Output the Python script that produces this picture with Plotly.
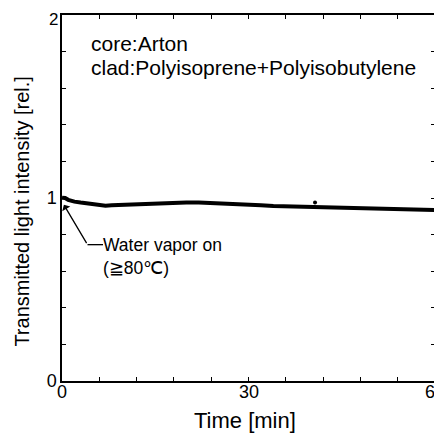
import plotly.graph_objects as go

# data
time_min = [0, 0.5, 1, 1.5, 2, 3, 4, 5, 6, 7, 8, 10, 12, 14, 16, 18, 20, 22, 24, 26,
            28, 30, 32, 34, 36, 38, 40, 42, 44, 46, 48, 50, 52, 54, 56, 58, 60]
intensity = [1.002, 1.0, 0.99, 0.984, 0.98, 0.975, 0.97, 0.965, 0.96, 0.958, 0.96, 0.963,
             0.966, 0.968, 0.971, 0.974, 0.976, 0.975, 0.973, 0.971, 0.968, 0.964, 0.96,
             0.956, 0.954, 0.951, 0.949, 0.947, 0.945, 0.943, 0.942, 0.94, 0.939, 0.937,
             0.935, 0.935, 0.934]
outlier_t = [40.7]
outlier_v = [0.976]

x_tickvals = [0, 6, 12, 18, 24, 30, 36, 42, 48, 54, 60]
x_label_vals = [0, 30, 60]
x_label_text = ["0", "30", "60"]
y_tickvals = [0, 0.2, 0.4, 0.6, 0.8, 1, 1.2, 1.4, 1.6, 1.8, 2]
y_ticktext = ["0", "", "", "", "", "1", "", "", "", "", ""]
y_top_label = "2"

FONT = "Liberation Sans, Arial, sans-serif"

fig = go.Figure()
fig.add_trace(go.Scatter(x=time_min, y=intensity, mode="lines",
                         line=dict(color="black", width=4), showlegend=False))
fig.add_trace(go.Scatter(x=outlier_t, y=outlier_v, mode="markers",
                         marker=dict(color="black", size=4), showlegend=False))

axis_common = dict(showline=True, linecolor="black", linewidth=1.5, mirror="ticks",
                   ticks="inside", ticklen=4, tickcolor="black", tickwidth=1.2,
                   showgrid=False, zeroline=False, automargin=False,
                   ticklabeloverflow="allow",
                   tickfont=dict(family=FONT, size=18, color="black"))

fig.update_xaxes(range=[0, 60], tickvals=x_tickvals, showticklabels=False, **axis_common)
fig.update_yaxes(range=[0, 2], tickvals=y_tickvals, ticktext=y_ticktext, **axis_common)

# top y label placed just inside the page edge
fig.add_annotation(x=0, y=2, xref="paper", yref="y", text=y_top_label, showarrow=False,
                   xanchor="right", yanchor="middle", xshift=-2, yshift=-4,
                   font=dict(family=FONT, size=17, color="black"))

# x tick labels (the last one is cut by the right edge, as in the reference)
for v, t in zip(x_label_vals, x_label_text):
    fig.add_annotation(x=v, y=-0.03, xref="x", yref="paper", text=t, showarrow=False,
                       xanchor="center", yanchor="middle",
                       font=dict(family=FONT, size=18, color="black"))

# axis titles
fig.add_annotation(x=0.49, y=-0.107, xref="paper", yref="paper", text="Time [min]",
                   showarrow=False, xanchor="center", yanchor="middle",
                   font=dict(family=FONT, size=22, color="black"))
fig.add_annotation(x=-0.108, y=0.462, xref="paper", yref="paper",
                   text="Transmitted light intensity [rel.]", textangle=-90,
                   showarrow=False, xanchor="center", yanchor="middle",
                   font=dict(family=FONT, size=20, color="black"))

# text labels
fig.add_annotation(x=4.3, y=1.847, xref="x", yref="y", text="core:Arton",
                   showarrow=False, xanchor="left", yanchor="middle",
                   font=dict(family=FONT, size=21, color="black"))
fig.add_annotation(x=4.3, y=1.712, xref="x", yref="y", text="clad:Polyisoprene+Polyisobutylene",
                   showarrow=False, xanchor="left", yanchor="middle",
                   font=dict(family=FONT, size=21, color="black"))
fig.add_annotation(x=6.3, y=0.745, xref="x", yref="y", text="Water vapor on",
                   showarrow=False, xanchor="left", yanchor="middle",
                   font=dict(family=FONT, size=17.5, color="black"))
fig.add_annotation(x=6.3, y=0.62, xref="x", yref="y", text="(≧80℃)",
                   showarrow=False, xanchor="left", yanchor="middle",
                   font=dict(family=FONT, size=17.5, color="black"))
fig.add_annotation(x=0.3, y=0.963, ax=4.1, ay=0.745, xref="x", yref="y", axref="x", ayref="y",
                   text="", showarrow=True, arrowhead=1, arrowsize=1.2, arrowwidth=1.3,
                   arrowcolor="black")
fig.add_shape(type="line", x0=4.1, y0=0.745, x1=6.6, y1=0.745, xref="x", yref="y",
              line=dict(color="black", width=1.3))

# the page body adds an 8px offset, so the figure is sized to fill the rest of the window
fig.update_layout(width=434, height=431, margin=dict(l=54, r=7, t=7, b=58),
                  plot_bgcolor="white", paper_bgcolor="white",
                  font=dict(family=FONT, color="black"))

fig.write_html("out.html")
